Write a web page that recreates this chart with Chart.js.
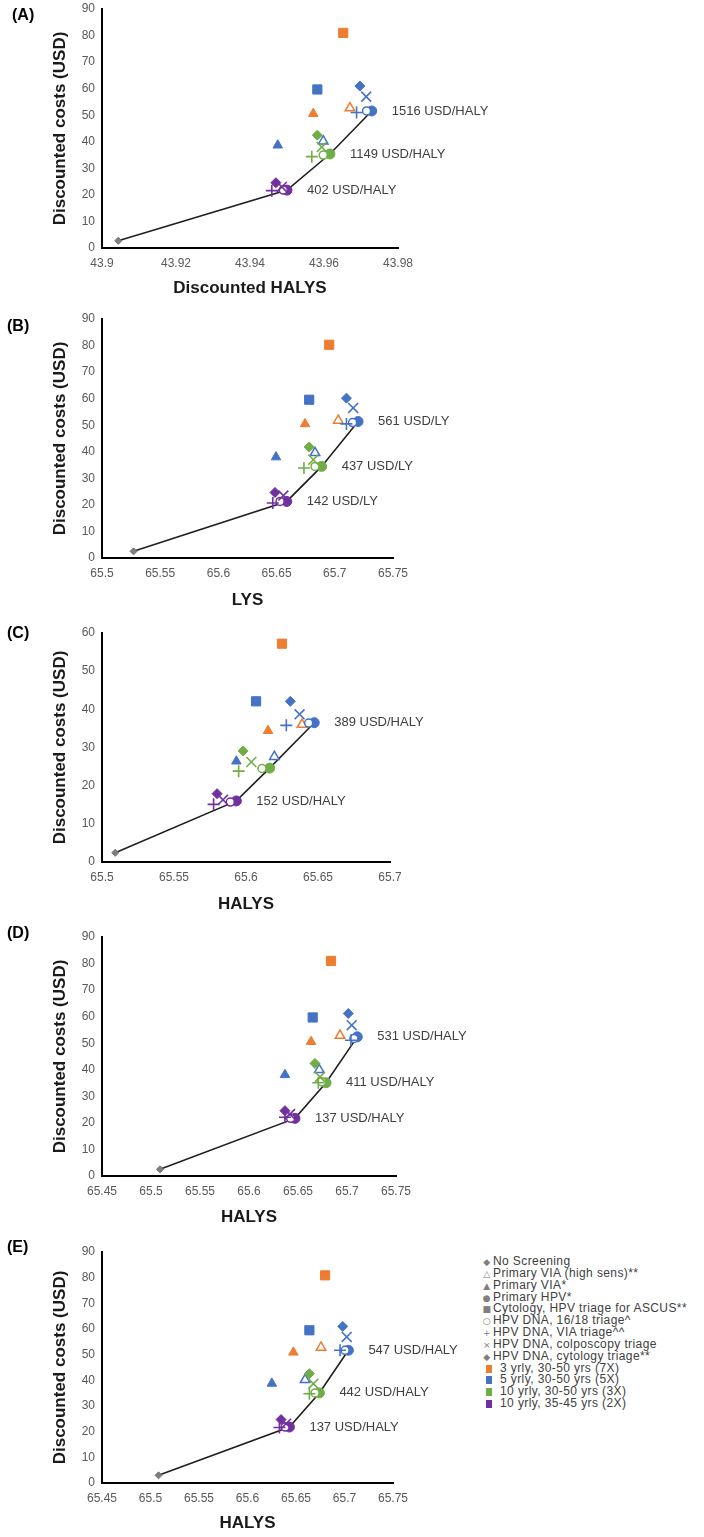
<!DOCTYPE html>
<html>
<head>
<meta charset="utf-8">
<script src="https://cdn.jsdelivr.net/npm/chart.js@4.4.1/dist/chart.umd.min.js"></script>
<style>
  body { margin: 0; background: #fff; width: 704px; height: 1537px; position: relative; overflow: hidden;
         font-family: "Liberation Sans", Arial, sans-serif; }
  canvas { position: absolute; left: 0; }
  .tag { position: absolute; font: bold 16px "Liberation Sans", Arial, sans-serif; color: #000; line-height: 18px; }
  #legend { position: absolute; left: 482px; top: 1256px; font-size: 12px; color: #404040;
            line-height: 11.85px; letter-spacing: 0.4px; white-space: nowrap; }
  #legend .sym { display: inline-block; width: 10px; text-align: center; color: #7f7f7f;
                 font: 9px "DejaVu Sans", sans-serif; margin-right: 1px; }
  #legend .sw { display: inline-block; width: 6px; height: 8px; margin: 0 8px 0 4px; vertical-align: -1px; }
</style>
</head>
<body>
<div id="legend"></div>
<script>
// Strategies (rows of every matrix below) and screening frequencies (columns)
const strategies = ['Primary VIA (high sens)**', 'Primary VIA*', 'Primary HPV*',
  'Cytology, HPV triage for ASCUS**', 'HPV DNA, 16/18 triage^', 'HPV DNA, VIA triage^^',
  'HPV DNA, colposcopy triage', 'HPV DNA, cytology triage**'];
const noScreeningLabel = 'No Screening';
const frequencies = ['3 yrly, 30-50 yrs (7X)', '5 yrly, 30-50 yrs (5X)',
  '10 yrly, 30-50 yrs (3X)', '10 yrly, 35-45 yrs (2X)'];

// (A) discounted HALYs
const effectA = [
  [43.9670, 43.9598, null, null],
  [43.9571, 43.9475, null, null],
  [null, 43.9729, 43.9616, 43.9500],
  [43.9652, 43.9582, null, null],
  [null, 43.9715, 43.9598, 43.9490],
  [null, 43.9688, 43.9567, 43.9459],
  [null, 43.9714, 43.9594, 43.9486],
  [null, 43.9697, 43.9582, 43.9470]
];
const costA = [
  [52.7, 40.2, null, null],
  [50.6, 38.7, null, null],
  [null, 51.6, 35.4, 21.8],
  [81.0, 59.7, null, null],
  [null, 51.6, 35.0, 21.8],
  [null, 51.0, 34.4, 21.6],
  [null, 57.0, 38.0, 23.0],
  [null, 61.0, 42.5, 24.6]
];
const noScreenA = [43.9044, 2.7];
const icerA = ['1516 USD/HALY', '1149 USD/HALY', '402 USD/HALY'];
const xTicksA = [43.9, 43.92, 43.94, 43.96, 43.98];

// (B) life years
const effectB = [
  [65.7030, 65.6830, null, null],
  [65.6744, 65.6495, null, null],
  [null, 65.7200, 65.6887, 65.6587],
  [65.6952, 65.6780, null, null],
  [null, 65.7153, 65.6830, 65.6530],
  [null, 65.7100, 65.6735, 65.6467],
  [null, 65.7158, 65.6815, 65.6558],
  [null, 65.7100, 65.6780, 65.6486]
];
const costB = [
  [51.8, 39.6, null, null],
  [50.5, 38.0, null, null],
  [null, 51.4, 34.5, 21.3],
  [80.3, 59.6, null, null],
  [null, 51.0, 34.5, 21.3],
  [null, 50.5, 33.9, 20.7],
  [null, 56.5, 37.0, 23.5],
  [null, 60.2, 41.8, 24.7]
];
const noScreenB = [65.5271, 2.5];
const icerB = ['561 USD/LY', '437 USD/LY', '142 USD/LY'];
const xTicksB = [65.5, 65.55, 65.6, 65.65, 65.7, 65.75];

// (C) HALYs
const effectC = [
  [65.6389, 65.6197, null, null],
  [65.6153, 65.5933, null, null],
  [null, 65.6474, 65.6164, 65.5933],
  [65.6250, 65.6070, null, null],
  [null, 65.6435, 65.6111, 65.5891],
  [null, 65.6280, 65.5949, 65.5775],
  [null, 65.6372, 65.6037, 65.5840],
  [null, 65.6308, 65.5980, 65.5799]
];
const costC = [
  [36.0, 27.6, null, null],
  [34.4, 26.4, null, null],
  [null, 36.5, 24.6, 16.0],
  [57.2, 42.1, null, null],
  [null, 36.4, 24.5, 15.7],
  [null, 35.8, 23.8, 15.1],
  [null, 38.7, 26.2, 16.3],
  [null, 42.1, 29.1, 17.9]
];
const noScreenC = [65.5092, 2.4];
const icerC = ['389 USD/HALY', null, '152 USD/HALY'];
const xTicksC = [65.5, 65.55, 65.6, 65.65, 65.7];

// (D) HALYs
const effectD = [
  [65.6929, 65.6717, null, null],
  [65.6633, 65.6367, null, null],
  [null, 65.7105, 65.6786, 65.6469],
  [65.6837, 65.6650, null, null],
  [null, 65.7071, 65.6742, 65.6425],
  [null, 65.7040, 65.6707, 65.6367],
  [null, 65.7048, 65.6724, 65.6418],
  [null, 65.7013, 65.6673, 65.6367]
];
const costD = [
  [52.9, 40.0, null, null],
  [50.6, 38.1, null, null],
  [null, 52.4, 35.1, 21.7],
  [81.0, 59.7, null, null],
  [null, 51.8, 35.5, 21.7],
  [null, 51.1, 35.1, 22.1],
  [null, 56.8, 37.3, 23.3],
  [null, 61.2, 42.4, 24.6]
];
const noScreenD = [65.5092, 2.5];
const icerD = ['531 USD/HALY', '411 USD/HALY', '137 USD/HALY'];
const xTicksD = [65.45, 65.5, 65.55, 65.6, 65.65, 65.7, 65.75];

// (E) HALYs
const effectE = [
  [65.6758, 65.6594, null, null],
  [65.6473, 65.6251, null, null],
  [null, 65.7040, 65.6741, 65.6432],
  [65.6800, 65.6638, null, null],
  [null, 65.7006, 65.6697, 65.6388],
  [null, 65.6954, 65.6638, 65.6329],
  [null, 65.7023, 65.6679, 65.6398],
  [null, 65.6982, 65.6638, 65.6346]
];
const costE = [
  [52.8, 40.2, null, null],
  [50.9, 38.8, null, null],
  [null, 51.7, 35.1, 21.8],
  [80.9, 59.5, null, null],
  [null, 51.7, 35.1, 21.8],
  [null, 51.7, 34.8, 21.6],
  [null, 56.9, 38.7, 23.1],
  [null, 61.0, 42.6, 24.7]
];
const noScreenE = [65.5083, 3.0];
const icerE = ['547 USD/HALY', '442 USD/HALY', '137 USD/HALY'];
const xTicksE = [65.45, 65.5, 65.55, 65.6, 65.65, 65.7, 65.75];

// ---- styling ----
const COLOURS = ['#ED7D31', '#4472C4', '#70AD47', '#7030A0'];
const MARKERS = [
  { style: 'triangle', r: 5.5, bw: 1.5, hollow: true },
  { style: 'triangle', r: 5.5, bw: 1 },
  { style: 'circle',   r: 5,   bw: 1 },
  { style: 'rect',     r: 6.5, bw: 1 },
  { style: 'circle',   r: 4,   bw: 1.5, hollow: true },
  { style: 'cross',    r: 6,   bw: 1.6 },
  { style: 'crossRot', r: 7,   bw: 1.6 },
  { style: 'rectRot',  r: 5,   bw: 1 }
];
const LEGEND_SYMBOLS = ['◆', '△', '▲', '●', '■', '○', '+', '×', '◆'];
const FONT = '"Liberation Sans", Arial, sans-serif';
const CANVAS_W = 530;
const PAD_TOP = 16;

// top = canvas top on the page; chart area starts PAD_TOP below it
const panels = [
  { tag: '(A)', tagX: 12, tagY: 15, top: -7, height: 309, bottomBand: 54, right: 398,
    effect: effectA, cost: costA, ns: noScreenA, icer: icerA, xTicks: xTicksA, yMax: 90, xTitle: 'Discounted HALYS' },
  { tag: '(B)', tagX: 7, tagY: 326, top: 303, height: 311, bottomBand: 56, right: 393,
    effect: effectB, cost: costB, ns: noScreenB, icer: icerB, xTicks: xTicksB, yMax: 90, xTitle: 'LYS' },
  { tag: '(C)', tagX: 7, tagY: 633, top: 617, height: 301, bottomBand: 56, right: 390,
    effect: effectC, cost: costC, ns: noScreenC, icer: icerC, xTicks: xTicksC, yMax: 60, xTitle: 'HALYS' },
  { tag: '(D)', tagX: 7, tagY: 933, top: 921, height: 310, bottomBand: 55, right: 396,
    effect: effectD, cost: costD, ns: noScreenD, icer: icerD, xTicks: xTicksD, yMax: 90, xTitle: 'HALYS' },
  { tag: '(E)', tagX: 7, tagY: 1247, top: 1236, height: 301, bottomBand: 54, right: 393,
    effect: effectE, cost: costE, ns: noScreenE, icer: icerE, xTicks: xTicksE, yMax: 90, xTitle: 'HALYS' }
];

// Draws the ICER text next to each efficient-frontier point
const icerLabels = {
  id: 'icerLabels',
  afterDatasetsDraw(chart, args, opts) {
    const { ctx, scales: { x, y } } = chart;
    ctx.save();
    ctx.font = '13px ' + FONT;
    ctx.fillStyle = '#404040';
    ctx.textBaseline = 'middle';
    ctx.textAlign = 'left';
    opts.points.forEach((p, i) => {
      if (!opts.labels[i]) return;
      ctx.fillText(opts.labels[i], x.getPixelForValue(p.x) + 20, y.getPixelForValue(p.y));
    });
    ctx.restore();
  }
};

function buildPanel(cfg) {
  const canvas = document.createElement('canvas');
  canvas.width = CANVAS_W;
  canvas.height = cfg.height;
  canvas.style.top = cfg.top + 'px';
  document.body.appendChild(canvas);

  const tag = document.createElement('div');
  tag.className = 'tag';
  tag.textContent = cfg.tag;
  tag.style.left = cfg.tagX + 'px';
  tag.style.top = (cfg.tagY - 9) + 'px';
  document.body.appendChild(tag);

  const datasets = [];
  strategies.forEach((name, i) => {
    const pts = [];
    cfg.effect[i].forEach((xv, j) => {
      if (xv !== null) pts.push({ x: xv, y: cfg.cost[i][j], f: j });
    });
    const m = MARKERS[i];
    datasets.push({
      label: name,
      data: pts,
      order: 50 - i,
      pointStyle: m.style,
      pointRadius: m.r,
      pointBorderWidth: m.bw,
      pointBackgroundColor: c => m.hollow ? '#fff' : (c.raw ? COLOURS[c.raw.f] : '#888'),
      pointBorderColor: c => c.raw ? COLOURS[c.raw.f] : '#888'
    });
  });

  datasets.push({
    label: noScreeningLabel,
    data: [{ x: cfg.ns[0], y: cfg.ns[1] }],
    order: 60,
    pointStyle: 'rectRot',
    pointRadius: 3.5,
    pointBackgroundColor: '#7f7f7f',
    pointBorderColor: '#6f6f6f'
  });

  // efficient frontier: no screening -> primary HPV at 10y(35-45), 10y(30-50), 5y
  const hpv = 2;
  const frontierCols = [3, 2, 1];
  const frontier = [{ x: cfg.ns[0], y: cfg.ns[1] }];
  frontierCols.forEach(j => frontier.push({ x: cfg.effect[hpv][j], y: cfg.cost[hpv][j] }));
  datasets.push({
    label: 'frontier',
    data: frontier,
    order: 100,
    showLine: true,
    borderColor: '#1f1f1f',
    borderWidth: 1.6,
    pointRadius: 0
  });

  const labelPoints = [1, 2, 3].map(j => ({ x: cfg.effect[hpv][j], y: cfg.cost[hpv][j] }));

  new Chart(canvas.getContext('2d'), {
    type: 'scatter',
    data: { datasets },
    plugins: [icerLabels],
    options: {
      responsive: false,
      devicePixelRatio: 1,
      animation: false,
      events: [],
      layout: { padding: { top: PAD_TOP, left: 0, bottom: 0, right: CANVAS_W - cfg.right } },
      plugins: {
        legend: { display: false },
        tooltip: { enabled: false },
        icerLabels: { points: labelPoints, labels: cfg.icer }
      },
      scales: {
        x: {
          type: 'linear',
          min: cfg.xTicks[0],
          max: cfg.xTicks[cfg.xTicks.length - 1],
          grid: { display: false, drawTicks: false },
          border: { display: true, color: '#000', width: 2 },
          afterBuildTicks: s => { s.ticks = cfg.xTicks.map(v => ({ value: v })); },
          afterFit: s => { s.height = cfg.bottomBand; },
          ticks: {
            autoSkip: false, maxRotation: 0, padding: 8,
            color: '#595959', font: { family: FONT, size: 12 },
            callback: v => String(+Number(v).toFixed(3))
          },
          title: {
            display: true, text: cfg.xTitle, color: '#1a1a1a',
            font: { family: FONT, size: 17, weight: 'bold' },
            padding: { top: 0, bottom: 3 }
          }
        },
        y: {
          type: 'linear',
          min: 0,
          max: cfg.yMax,
          grid: { display: false, drawTicks: false },
          border: { display: true, color: '#000', width: 2 },
          afterFit: s => { s.width = 102; },
          ticks: {
            stepSize: 10, padding: 7,
            color: '#595959', font: { family: FONT, size: 12 }
          },
          title: {
            display: true, text: 'Discounted costs (USD)', color: '#1a1a1a',
            font: { family: FONT, size: 17, weight: 'bold' },
            padding: { top: 50, bottom: 0 }
          }
        }
      }
    }
  });
}

panels.forEach(buildPanel);

// legend for the whole figure (shown beside panel E)
const legend = document.getElementById('legend');
const rows = [noScreeningLabel].concat(strategies).map((name, i) =>
  '<div><span class="sym">' + LEGEND_SYMBOLS[i] + '</span>' + name + '</div>');
frequencies.forEach((f, j) => {
  rows.push('<div><span class="sw" style="background:' + COLOURS[j] + '"></span>' + f + '</div>');
});
legend.innerHTML = rows.join('');
</script>
</body>
</html>
